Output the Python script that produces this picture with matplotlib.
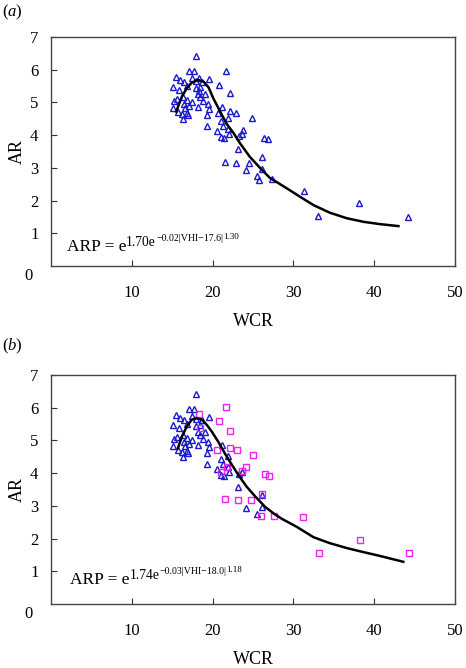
import matplotlib
matplotlib.use('Agg')
import matplotlib.pyplot as plt
from matplotlib.transforms import offset_copy

plt.rcParams['font.family'] = 'Liberation Serif'
plt.rcParams['mathtext.fontset'] = 'custom'
plt.rcParams['mathtext.rm'] = 'Liberation Serif'
plt.rcParams['mathtext.it'] = 'Liberation Serif:italic'

# observed AR vs WCR (triangles), panel a
tri_a_wcr = [17.9, 17.1, 17.7, 21.6, 15.5, 16.0, 19.6, 17.5, 18.3, 17.9,
             16.4, 18.7, 20.8, 15.1, 15.8, 16.8, 18.5, 17.9, 22.1, 18.3,
             18.2, 18.5, 19.0, 15.6, 15.2, 16.8, 16.3, 17.4, 18.8, 19.4,
             16.4, 17.1, 18.2, 15.1, 16.6, 21.2, 19.6, 15.7, 16.8, 16.2,
             16.9, 19.3, 20.7, 22.2, 22.9, 16.3, 21.9, 24.9, 21.1, 21.3,
             19.3, 20.5, 21.9, 23.8, 23.6, 23.3, 22.0, 21.1, 21.4, 26.3,
             26.9, 23.2, 26.1, 21.5, 22.9, 24.5, 24.1, 26.1, 25.5, 25.8,
             27.4, 31.3, 38.1, 33.1, 44.2]
tri_a_ar = [6.41, 5.96, 5.96, 5.96, 5.79, 5.70, 5.72, 5.76, 5.76, 5.64,
            5.62, 5.62, 5.52, 5.46, 5.39, 5.51, 5.47, 5.43, 5.28, 5.35,
            5.27, 5.17, 5.27, 5.11, 5.03, 5.07, 5.17, 5.02, 5.04, 4.96,
            4.96, 4.88, 4.86, 4.84, 4.84, 4.86, 4.79, 4.71, 4.69, 4.66,
            4.61, 4.61, 4.68, 4.73, 4.68, 4.49, 4.51, 4.53, 4.43, 4.29,
            4.27, 4.13, 4.19, 4.17, 4.05, 3.98, 4.02, 3.95, 3.91, 3.90,
            3.88, 3.57, 3.33, 3.17, 3.15, 3.15, 2.93, 2.96, 2.76, 2.62,
            2.65, 2.28, 1.92, 1.52, 1.50]

# calibration subset (triangles), panel b
tri_b_wcr = [17.9, 17.1, 17.7, 15.5, 16.0, 19.6, 17.5, 17.9,
             16.4, 18.7, 15.1, 15.8, 16.8, 18.5, 17.9,
             18.2, 18.5, 19.0, 15.6, 15.2, 16.8, 16.3, 17.4, 18.8, 19.4,
             16.4, 17.1, 18.2, 15.1, 16.6, 21.2, 19.6, 15.7, 16.8, 16.2,
             16.9, 19.3, 16.3, 21.9, 21.1, 21.3,
             19.3, 20.5, 21.9, 23.6, 23.3, 22.0, 21.1, 21.4,
             23.2, 26.1, 24.1, 26.1, 25.5]
tri_b_ar = [6.41, 5.96, 5.96, 5.79, 5.70, 5.72, 5.76, 5.64,
            5.62, 5.62, 5.46, 5.39, 5.51, 5.47, 5.43,
            5.27, 5.17, 5.27, 5.11, 5.03, 5.07, 5.17, 5.02, 5.04, 4.96,
            4.96, 4.88, 4.86, 4.84, 4.84, 4.86, 4.79, 4.71, 4.69, 4.66,
            4.61, 4.61, 4.49, 4.51, 4.43, 4.29,
            4.27, 4.13, 4.19, 4.05, 3.98, 4.02, 3.95, 3.91,
            3.57, 3.33, 2.93, 2.96, 2.76]

# validation points (squares), panel b
sq_wcr = [18.3, 21.6, 20.8, 22.2, 18.5, 20.6, 22.1, 23.0, 25.0, 24.1,
          23.7, 26.5, 27.0, 21.8, 21.0, 26.1, 21.5, 23.1, 24.8, 26.0,
          27.6, 31.2, 38.2, 33.2, 44.3]
sq_ar = [5.81, 6.03, 5.58, 5.30, 5.38, 4.71, 4.76, 4.71, 4.56, 4.20,
         4.07, 3.98, 3.92, 4.20, 4.05, 3.35, 3.21, 3.18, 3.18, 2.68,
         2.68, 2.65, 1.96, 1.56, 1.56]

# fitted curves
fit_a_wcr = [15.5, 15.8, 16.2, 16.8, 17.4, 18.2, 18.9, 19.5, 20.1, 20.9,
             21.7, 22.6, 23.4, 24.6, 25.9, 27.1, 28.3, 29.4, 30.8, 32.5,
             34.5, 36.6, 38.7, 40.7, 43.0]
fit_a_ar = [4.72, 4.92, 5.18, 5.43, 5.60, 5.69, 5.63, 5.46, 5.12, 4.74,
            4.36, 4.06, 3.75, 3.34, 2.99, 2.69, 2.51, 2.34, 2.12, 1.86,
            1.63, 1.46, 1.35, 1.28, 1.22]
fit_b_wcr = [15.7, 16.2, 16.8, 17.4, 18.0, 18.7, 19.3, 19.9, 20.7, 21.5,
             22.4, 23.2, 24.2, 25.3, 26.5, 27.7, 28.6, 30.4, 32.5, 34.5,
             36.6, 38.6, 40.7, 43.6]
fit_b_ar = [4.76, 5.12, 5.42, 5.63, 5.68, 5.63, 5.47, 5.27, 4.96, 4.61,
            4.25, 3.94, 3.59, 3.28, 2.97, 2.74, 2.60, 2.36, 2.04, 1.86,
            1.71, 1.59, 1.47, 1.29]

# equation pieces: text, size, raise (px)
eq_a = [('ARP = e', 12.5, 0), ('1.70e', 9.8, 5), ('\u22120.02|VHI\u221217.6|', 7.1, 10), ('1.30', 6.5, 12)]
eq_b = [('ARP = e', 12.5, 0), ('1.74e', 9.8, 5), ('\u22120.03|VHI\u221218.0|', 7.1, 10), ('1.18', 6.5, 12)]

fig = plt.figure(figsize=(4.66, 6.68), dpi=100)
ax_a = fig.add_axes([51/466, 1-266/668, 404/466, 229/668])
ax_b = fig.add_axes([51/466, 1-604/668, 404/466, 229/668])
fig.canvas.draw()
renderer = fig.canvas.get_renderer()

panels = [(ax_a, tri_a_wcr, tri_a_ar, None, None, fit_a_wcr, fit_a_ar, eq_a, (0.039, 0.067)),
          (ax_b, tri_b_wcr, tri_b_ar, sq_wcr, sq_ar, fit_b_wcr, fit_b_ar, eq_b, (0.047, 0.087))]

for ax, tx, ty, sx, sy, fx, fy, eq, eqpos in panels:
    ax.plot(tx, ty, linestyle='none', marker='^', markersize=5,
            markerfacecolor='none', markeredgecolor='#1a1acc', markeredgewidth=1.0)
    if sx is not None:
        ax.plot(sx, sy, linestyle='none', marker='s', markersize=4.5,
                markerfacecolor='none', markeredgecolor='#ee22ee', markeredgewidth=1.0)
    ax.plot(fx, fy, color='black', lw=1.8, solid_joinstyle='round')

    ax.set_xlim(0, 50)
    ax.set_ylim(0, 7)
    ax.set_xticks([10, 20, 30, 40, 50])
    ax.set_yticks([1, 2, 3, 4, 5, 6, 7])
    ax.tick_params(direction='in', length=4, width=0.8, labelsize=12, colors='#333333',
                   labelcolor='black')
    ax.tick_params(axis='x', pad=14)
    ax.tick_params(axis='y', pad=9)
    for s in ax.spines.values():
        s.set_color('#444444')
        s.set_linewidth(1.0)
    ax.text(-0.045, -0.045, '0', transform=ax.transAxes, fontsize=12,
            ha='right', va='center')
    ax.set_xlabel('WCR', fontsize=13, labelpad=8)
    ax.set_ylabel('AR', fontsize=13, labelpad=3)

    # equation built piece by piece
    dx = 0
    for txt, fs, up in eq:
        tr = offset_copy(ax.transAxes, fig=fig, x=dx, y=up, units='dots')
        t = ax.text(eqpos[0], eqpos[1], txt, transform=tr, fontsize=fs,
                    ha='left', va='baseline')
        bb = t.get_window_extent(renderer)
        dx += bb.width

fig.text(0.004, 1 - 12/668, r'$(\mathit{a})$', fontsize=12, va='center')
fig.text(0.004, 1 - 346/668, r'$(\mathit{b})$', fontsize=12, va='center')

fig.savefig('out.png', dpi=100)
